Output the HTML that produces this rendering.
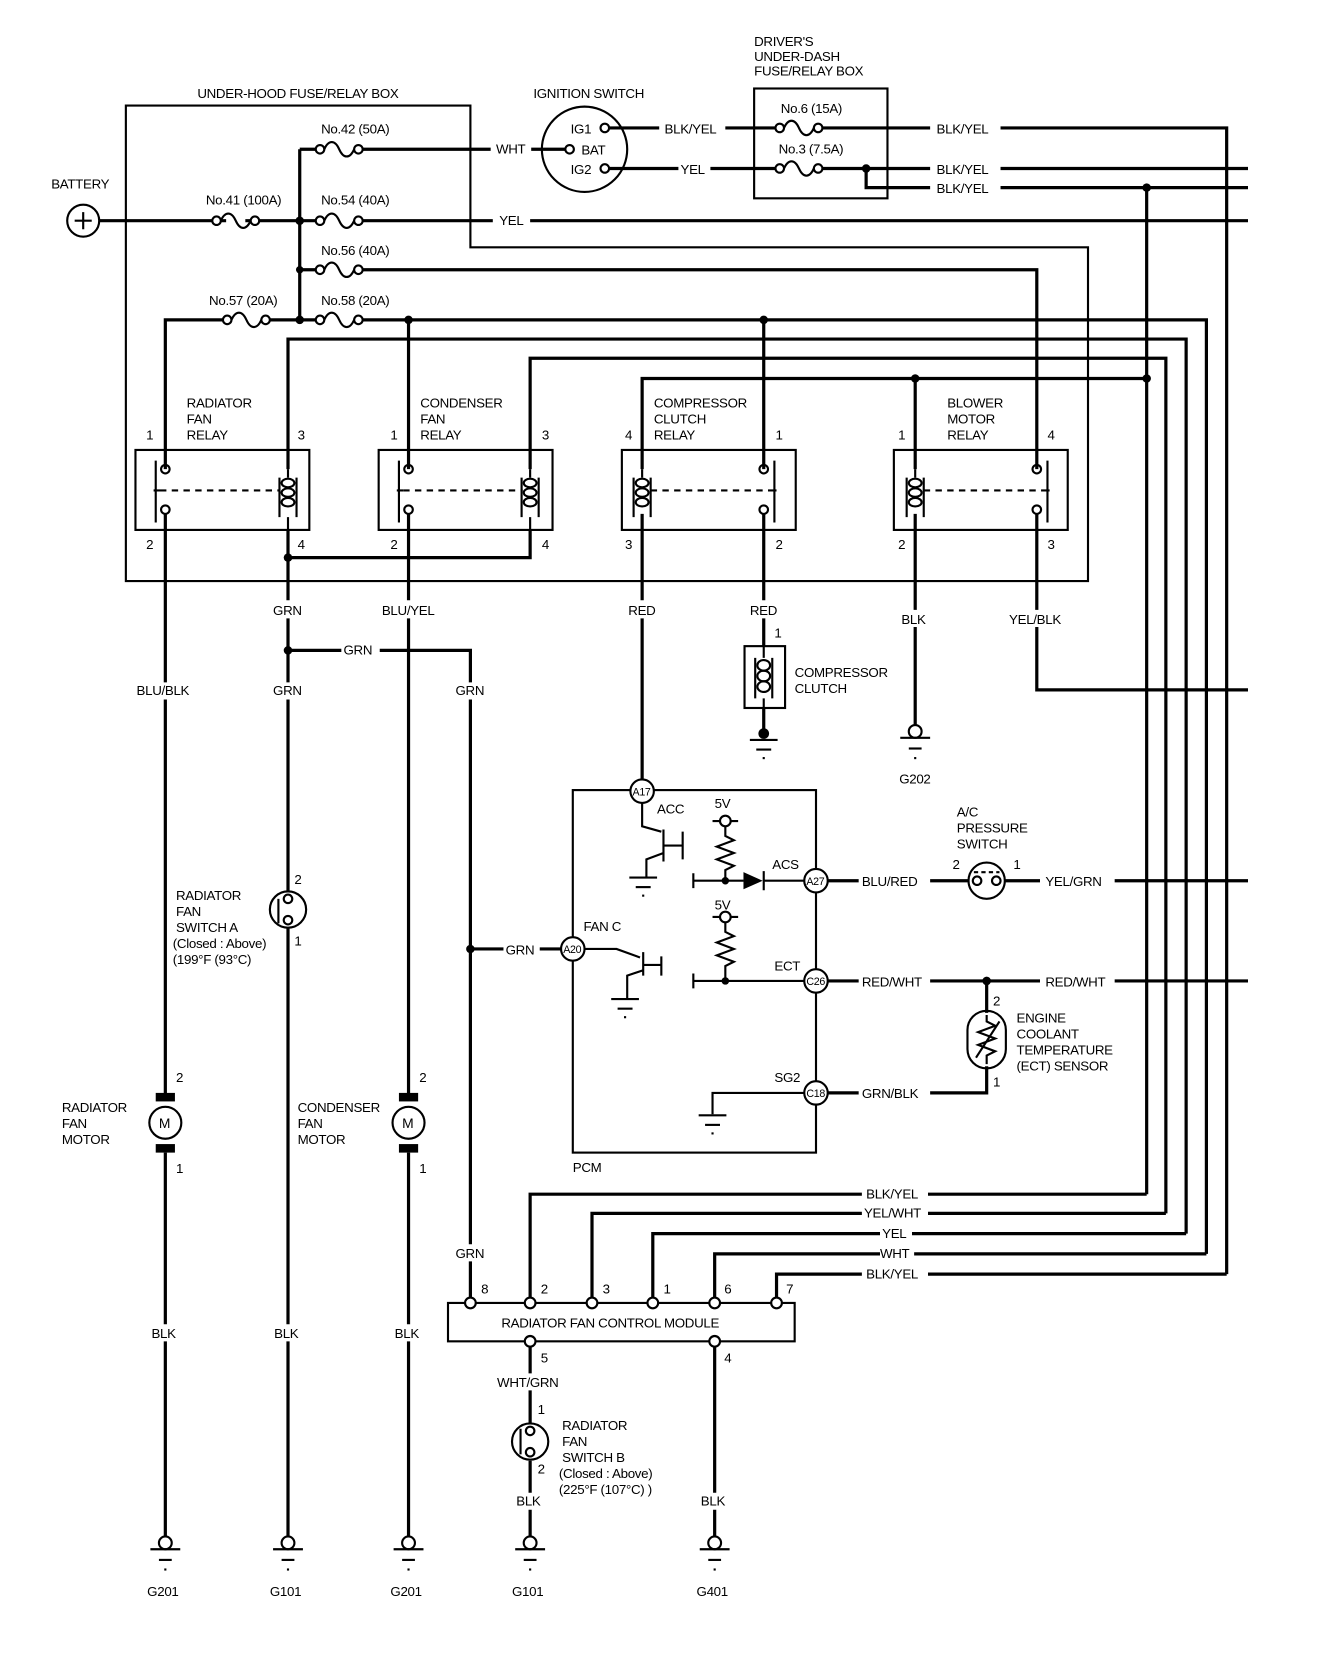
<!DOCTYPE html>
<html><head><meta charset="utf-8"><style>
html,body{margin:0;padding:0;background:#fff}
svg{display:block}
text{font-family:"Liberation Sans",sans-serif;font-size:12.5px;fill:#000;letter-spacing:-0.3px}
.w{stroke:#000;stroke-width:3;fill:none}
.t{stroke:#000;stroke-width:2;fill:none}
.c{stroke:#000;stroke-width:2;fill:#fff}
</style></head><body>
<svg width="1344" height="1674" viewBox="0 0 1260 1570" preserveAspectRatio="none" xmlns="http://www.w3.org/2000/svg">
<defs>
<g id="fuse"><path d="M-14,0 C-10,-9 -4,-9 0,0 C4,9 10,9 14,0" class="t"/><circle cx="-18" cy="0" r="4" class="c"/><circle cx="18" cy="0" r="4" class="c"/></g>
<g id="gnd"><circle cx="0" cy="-6" r="6" class="c"/><line x1="-14" y1="0" x2="14" y2="0" class="t"/><line x1="-6" y1="10" x2="6" y2="10" class="t"/><line x1="-1" y1="19" x2="1" y2="19" class="t"/></g>
<g id="sgnd"><line x1="-13" y1="0" x2="13" y2="0" class="t"/><line x1="-7" y1="9" x2="7" y2="9" class="t"/><line x1="-1" y1="17" x2="1" y2="17" class="t"/></g>
</defs>

<path d="M118,99 H441 V232 H1020 V545 H118 Z" class="t"/>
<text x="185" y="92">UNDER-HOOD FUSE/RELAY BOX</text>
<circle cx="78" cy="207" r="15" class="t"/>
<path d="M70,207 H86 M78,199 V215" class="t"/>
<text x="48" y="177">BATTERY</text>

<path d="M93,207 H212 M230,207 H299 M336,207 H462 M497,207 H1170" class="w"/>
<use href="#fuse" x="233" y="207" transform="translate(-12,0)"/>
<text x="193" y="192">No.41 (100A)</text>
<use href="#fuse" x="318" y="207"/>
<text x="301" y="192">No.54 (40A)</text>
<text x="468" y="211">YEL</text>
<path d="M281,140 V300" class="w"/>
<circle cx="281" cy="207" r="4"/><circle cx="281" cy="253" r="3.5"/><circle cx="281" cy="300" r="4"/>
<path d="M281,140 H300 M336,140 H460 M498,140 H530" class="w"/>
<use href="#fuse" x="318" y="140"/>
<text x="301" y="125">No.42 (50A)</text>
<text x="465" y="144">WHT</text>
<path d="M281,253 H300 M336,253 H972 V440" class="w"/>
<use href="#fuse" x="318" y="253"/>
<text x="301" y="239">No.56 (40A)</text>
<path d="M155,440 V300 H212 M250,300 H299 M336,300 H1131 V1176" class="w"/>
<use href="#fuse" x="231" y="300"/>
<text x="196" y="286">No.57 (20A)</text>
<use href="#fuse" x="318" y="300"/>
<text x="301" y="286">No.58 (20A)</text>
<circle cx="383" cy="300" r="4"/><circle cx="716" cy="300" r="4"/>
<path d="M383,300 V440 M716,300 V440" class="w"/>
<path d="M270,440 V318 H1112 V1157" class="w"/>
<path d="M497,440 V336 H1093 V1138" class="w"/>
<path d="M602,440 V355 H1075" class="w"/>
<circle cx="858" cy="355" r="4"/><circle cx="1075" cy="355" r="4"/>
<path d="M858,355 V440" class="w"/>

<text x="500" y="92">IGNITION SWITCH</text>
<circle cx="548" cy="140" r="40" class="t"/>
<text x="535" y="125">IG1</text><text x="545" y="145">BAT</text><text x="535" y="163">IG2</text>
<circle cx="567" cy="120" r="4" class="c"/><circle cx="534" cy="140" r="4" class="c"/><circle cx="567" cy="158" r="4" class="c"/>
<text x="707" y="43">DRIVER'S</text><text x="707" y="57">UNDER-DASH</text><text x="707" y="71">FUSE/RELAY BOX</text>
<rect x="707" y="83" width="125" height="103" class="t"/>
<path d="M571,120 H618 M680,120 H731 M767,120 H872 M938,120 H1150 V1195" class="w"/>
<text x="623" y="125">BLK/YEL</text>
<use href="#fuse" x="749" y="120"/>
<text x="732" y="106">No.6 (15A)</text>
<text x="878" y="125">BLK/YEL</text>
<path d="M571,158 H636 M666,158 H731 M767,158 H872 M938,158 H1170" class="w"/>
<text x="638" y="163">YEL</text>
<use href="#fuse" x="749" y="158"/>
<text x="730" y="144">No.3 (7.5A)</text>
<text x="878" y="163">BLK/YEL</text>
<circle cx="812" cy="158" r="4"/>
<path d="M812,158 V176 H872 M938,176 H1170" class="w"/>
<text x="878" y="181">BLK/YEL</text>
<circle cx="1075" cy="176" r="4"/>
<path d="M1075,176 V1120" class="w"/>

<g>
<rect x="127" y="422" width="163" height="75" class="t"/>
<rect x="355" y="422" width="163" height="75" class="t"/>
<rect x="583" y="422" width="163" height="75" class="t"/>
<rect x="838" y="422" width="163" height="75" class="t"/>
<text x="175" y="382">RADIATOR</text><text x="175" y="397">FAN</text><text x="175" y="412">RELAY</text>
<text x="394" y="382">CONDENSER</text><text x="394" y="397">FAN</text><text x="394" y="412">RELAY</text>
<text x="613" y="382">COMPRESSOR</text><text x="613" y="397">CLUTCH</text><text x="613" y="412">RELAY</text>
<text x="888" y="382">BLOWER</text><text x="888" y="397">MOTOR</text><text x="888" y="412">RELAY</text>
<text x="137" y="412">1</text><text x="279" y="412">3</text><text x="137" y="515">2</text><text x="279" y="515">4</text>
<text x="366" y="412">1</text><text x="508" y="412">3</text><text x="366" y="515">2</text><text x="508" y="515">4</text>
<text x="586" y="412">4</text><text x="727" y="412">1</text><text x="586" y="515">3</text><text x="727" y="515">2</text>
<text x="842" y="412">1</text><text x="982" y="412">4</text><text x="842" y="515">2</text><text x="982" y="515">3</text>
<g class="t">
<path d="M146,432 V490 M144,460 H150"/><circle cx="155" cy="440" r="4"/><circle cx="155" cy="478" r="4"/>
<path d="M374,432 V490 M372,460 H378"/><circle cx="383" cy="440" r="4"/><circle cx="383" cy="478" r="4"/>
<path d="M726,432 V490 M720,460 H728"/><circle cx="716" cy="440" r="4"/><circle cx="716" cy="478" r="4"/>
<path d="M982,432 V490 M976,460 H984"/><circle cx="972" cy="440" r="4"/><circle cx="972" cy="478" r="4"/>
<path d="M150,460 H262 M378,460 H490 M610,460 H720 M866,460 H976" stroke-dasharray="6,5"/>
</g>
<g class="t">
<path d="M270,440 V448 M270,485 V497"/><ellipse cx="270" cy="453" rx="6" ry="4"/><ellipse cx="270" cy="462" rx="6" ry="4"/><ellipse cx="270" cy="471" rx="6" ry="4"/><path d="M262,448 V485 M278,448 V485"/>
<path d="M497,440 V448 M497,485 V497"/><ellipse cx="497" cy="453" rx="6" ry="4"/><ellipse cx="497" cy="462" rx="6" ry="4"/><ellipse cx="497" cy="471" rx="6" ry="4"/><path d="M489,448 V485 M505,448 V485"/>
<path d="M602,440 V448 M602,485 V497"/><ellipse cx="602" cy="453" rx="6" ry="4"/><ellipse cx="602" cy="462" rx="6" ry="4"/><ellipse cx="602" cy="471" rx="6" ry="4"/><path d="M594,448 V485 M610,448 V485"/>
<path d="M858,440 V448 M858,485 V497"/><ellipse cx="858" cy="453" rx="6" ry="4"/><ellipse cx="858" cy="462" rx="6" ry="4"/><ellipse cx="858" cy="471" rx="6" ry="4"/><path d="M850,448 V485 M866,448 V485"/>
</g>
</g>

<path d="M155,482 V640 M155,656 V1027" class="w"/>
<text x="128" y="652">BLU/BLK</text>
<path d="M270,497 V563 M270,580 V640 M270,656 V836 M270,870 V1242 M270,1258 V1441" class="w"/>
<circle cx="270" cy="523" r="4"/>
<path d="M270,523 H497 V497" class="w"/>
<text x="256" y="577">GRN</text><text x="256" y="652">GRN</text>
<circle cx="270" cy="610" r="4"/>
<path d="M270,610 H320 M356,610 H441 V640 M441,656 V1167 M441,1183 V1218" class="w"/>
<text x="322" y="614">GRN</text><text x="427" y="652">GRN</text><text x="427" y="1180">GRN</text>
<circle cx="441" cy="890" r="4"/>
<path d="M441,890 H472 M506,890 H526" class="w"/>
<text x="474" y="895">GRN</text>
<path d="M383,482 V563 M383,580 V1027" class="w"/>
<text x="358" y="577">BLU/YEL</text>
<path d="M602,482 V563 M602,580 V731" class="w"/>
<text x="589" y="577">RED</text>
<path d="M716,482 V563 M716,580 V606" class="w"/>
<text x="703" y="577">RED</text>
<text x="726" y="598">1</text>
<rect x="698" y="606" width="38" height="58" class="t"/>
<g class="t"><path d="M716,606 V617 M716,655 V664"/><ellipse cx="716" cy="624" rx="6" ry="5"/><ellipse cx="716" cy="634" rx="6" ry="5"/><ellipse cx="716" cy="644" rx="6" ry="5"/><path d="M708,617 V655 M724,617 V655"/></g>
<path d="M716,664 V688" class="w"/><circle cx="716" cy="688" r="5"/>
<use href="#sgnd" x="716" y="694"/>
<text x="745" y="635">COMPRESSOR</text><text x="745" y="650">CLUTCH</text>
<path d="M858,482 V572 M858,588 V682" class="w"/>
<text x="845" y="585">BLK</text>
<use href="#gnd" x="858" y="692"/>
<text x="843" y="735">G202</text>
<path d="M972,482 V572 M972,588 V647 H1170" class="w"/>
<text x="946" y="585">YEL/BLK</text>

<circle cx="270" cy="853" r="17" class="t"/>
<g class="t"><path d="M261,843 V866"/><circle cx="270" cy="843" r="4"/><circle cx="270" cy="863" r="4"/></g>
<text x="276" y="829">2</text><text x="276" y="887">1</text>
<text x="165" y="844">RADIATOR</text><text x="165" y="859">FAN</text><text x="165" y="874">SWITCH A</text>
<text x="162" y="889">(Closed : Above)</text><text x="162" y="904">(199°F (93°C)</text>

<g>
<rect x="146" y="1025" width="18" height="8"/><rect x="146" y="1073" width="18" height="8"/>
<circle cx="155" cy="1053" r="15" class="c"/><text x="149" y="1058" style="font-size:13px">M</text>
<rect x="374" y="1025" width="18" height="8"/><rect x="374" y="1073" width="18" height="8"/>
<circle cx="383" cy="1053" r="15" class="c"/><text x="377" y="1058" style="font-size:13px">M</text>
</g>
<text x="165" y="1015">2</text><text x="165" y="1100">1</text>
<text x="393" y="1015">2</text><text x="393" y="1100">1</text>
<text x="58" y="1043">RADIATOR</text><text x="58" y="1058">FAN</text><text x="58" y="1073">MOTOR</text>
<text x="279" y="1043">CONDENSER</text><text x="279" y="1058">FAN</text><text x="279" y="1073">MOTOR</text>
<path d="M155,1081 V1242 M155,1258 V1441 M383,1081 V1242 M383,1258 V1441" class="w"/>
<text x="142" y="1255">BLK</text><text x="257" y="1255">BLK</text><text x="370" y="1255">BLK</text>

<rect x="537" y="741" width="228" height="340" class="t"/>
<text x="537" y="1099">PCM</text>
<g class="t">
<path d="M602,753 V775 L620,780 M622,778 V808 M622,800 L606,806 V822 M622,793 H640 M640,780 V806"/>
<path d="M668,770 H692 M680,775 V784 L688,788 L672,794 L688,800 L672,806 L688,812 L680,816 V826 M650,826 H697 M716,826 H754 M650,819 V833 M716,817 V835"/>
<path d="M548,890 H578 L600,898 M603,893 V915 M603,910 L588,915 V936 M603,905 H620 M620,897 V915"/>
<path d="M668,860 H692 M680,865 V874 L688,878 L672,884 L688,890 L672,896 L688,902 L680,906 V920 M650,920 H754 M650,913 V927"/>
<path d="M754,1025 H668 V1045"/>
</g>
<path d="M697,818 L715,826 L697,834 Z"/>
<circle cx="680" cy="826" r="3.5"/><circle cx="680" cy="920" r="3.5"/>
<circle cx="680" cy="770" r="5" class="c"/><circle cx="680" cy="860" r="5" class="c"/>
<use href="#sgnd" x="603" y="823"/><use href="#sgnd" x="586" y="937"/><use href="#sgnd" x="668" y="1046"/>
<text x="616" y="763">ACC</text><text x="670" y="758">5V</text><text x="670" y="853">5V</text>
<text x="724" y="815">ACS</text><text x="547" y="873">FAN C</text>
<text x="726" y="910">ECT</text><text x="726" y="1015">SG2</text>
<g>
<circle cx="602" cy="742" r="11" class="c"/><text x="593" y="746" style="font-size:10px">A17</text>
<circle cx="765" cy="826" r="11" class="c"/><text x="756" y="830" style="font-size:10px">A27</text>
<circle cx="537" cy="890" r="11" class="c"/><text x="528" y="894" style="font-size:10px">A20</text>
<circle cx="765" cy="920" r="11" class="c"/><text x="756" y="924" style="font-size:10px">C26</text>
<circle cx="765" cy="1025" r="11" class="c"/><text x="756" y="1029" style="font-size:10px">C18</text>
</g>
<path d="M776,826 H805 M872,826 H908 M942,826 H975 M1045,826 H1170" class="w"/>
<text x="808" y="831">BLU/RED</text><text x="980" y="831">YEL/GRN</text>
<circle cx="925" cy="826" r="17" class="t"/>
<g class="t"><circle cx="916" cy="826" r="4"/><circle cx="934" cy="826" r="4"/><path d="M913,818 H937" stroke-dasharray="4,3"/></g>
<text x="893" y="815">2</text><text x="950" y="815">1</text>
<text x="897" y="766">A/C</text><text x="897" y="781">PRESSURE</text><text x="897" y="796">SWITCH</text>
<path d="M776,920 H805 M872,920 H975 M1045,920 H1170" class="w"/>
<text x="808" y="925">RED/WHT</text><text x="980" y="925">RED/WHT</text>
<circle cx="925" cy="920" r="4"/>
<path d="M925,920 V950 M925,1000 V1025 H872 M805,1025 H776" class="w"/>
<rect x="907" y="948" width="36" height="54" rx="18" class="t"/>
<path d="M925,952 V958 L933,962 L917,968 L933,974 L917,980 L933,986 L925,990 V998 M915,992 L937,958" class="t"/>
<text x="931" y="943">2</text><text x="931" y="1019">1</text>
<text x="808" y="1030">GRN/BLK</text>
<text x="953" y="959">ENGINE</text><text x="953" y="974">COOLANT</text><text x="953" y="989">TEMPERATURE</text><text x="953" y="1004">(ECT) SENSOR</text>

<path d="M497,1218 V1120 H808 M870,1120 H1075" class="w"/>
<path d="M555,1218 V1138 H808 M870,1138 H1093" class="w"/>
<path d="M612,1218 V1157 H825 M855,1157 H1112" class="w"/>
<path d="M670,1218 V1176 H825 M857,1176 H1131" class="w"/>
<path d="M728,1218 V1195 H808 M870,1195 H1150" class="w"/>
<text x="812" y="1124">BLK/YEL</text><text x="810" y="1142">YEL/WHT</text><text x="827" y="1161">YEL</text><text x="825" y="1180">WHT</text><text x="812" y="1199">BLK/YEL</text>
<rect x="420" y="1222" width="325" height="36" class="t"/>
<text x="470" y="1245">RADIATOR FAN CONTROL MODULE</text>
<g><circle cx="441" cy="1222" r="5" class="c"/><circle cx="497" cy="1222" r="5" class="c"/><circle cx="555" cy="1222" r="5" class="c"/><circle cx="612" cy="1222" r="5" class="c"/><circle cx="670" cy="1222" r="5" class="c"/><circle cx="728" cy="1222" r="5" class="c"/></g>
<text x="451" y="1213">8</text><text x="507" y="1213">2</text><text x="565" y="1213">3</text><text x="622" y="1213">1</text><text x="679" y="1213">6</text><text x="737" y="1213">7</text>
<circle cx="497" cy="1258" r="5" class="c"/><circle cx="670" cy="1258" r="5" class="c"/>
<text x="507" y="1278">5</text><text x="679" y="1278">4</text>
<path d="M497,1263 V1288 M497,1304 V1335 M497,1370 V1400 M497,1416 V1441" class="w"/>
<text x="466" y="1301">WHT/GRN</text>
<circle cx="497" cy="1352" r="17" class="t"/>
<g class="t"><path d="M488,1340 V1364"/><circle cx="497" cy="1342" r="4"/><circle cx="497" cy="1362" r="4"/></g>
<text x="504" y="1326">1</text><text x="504" y="1382">2</text>
<text x="484" y="1412">BLK</text>
<text x="527" y="1341">RADIATOR</text><text x="527" y="1356">FAN</text><text x="527" y="1371">SWITCH B</text>
<text x="524" y="1386">(Closed : Above)</text><text x="524" y="1401">(225°F (107°C) )</text>
<path d="M670,1263 V1400 M670,1416 V1441" class="w"/>
<text x="657" y="1412">BLK</text>

<use href="#gnd" x="155" y="1453"/><use href="#gnd" x="270" y="1453"/><use href="#gnd" x="383" y="1453"/><use href="#gnd" x="497" y="1453"/><use href="#gnd" x="670" y="1453"/>
<text x="138" y="1497">G201</text><text x="253" y="1497">G101</text><text x="366" y="1497">G201</text><text x="480" y="1497">G101</text><text x="653" y="1497">G401</text>
</svg>
</body></html>
